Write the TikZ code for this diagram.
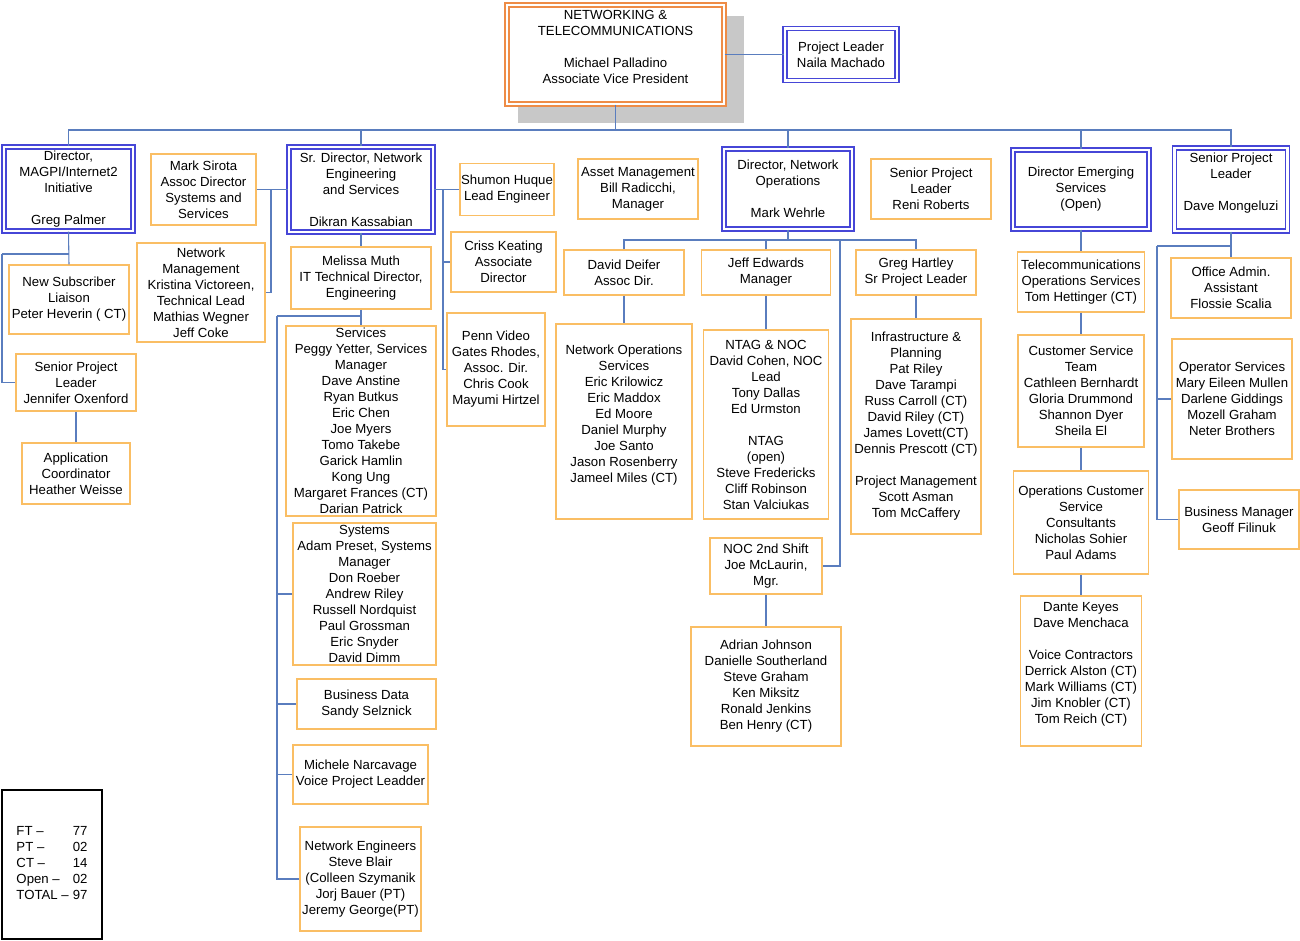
\documentclass[tikz,border=0pt]{standalone}
\usepackage{fontspec}
\setmainfont{Liberation Sans}
\usepackage{tikz}
\usetikzlibrary{calc}
\definecolor{boxorange}{RGB}{250,190,100}
\definecolor{rootorange}{RGB}{238,140,70}
\definecolor{headblue}{RGB}{70,70,215}
\definecolor{linkblue}{RGB}{90,125,190}
\definecolor{shadowgray}{RGB}{200,200,200}
\def\px{0.75pt}

\begin{document}
\begin{tikzpicture}[x=0.75pt, y=-0.75pt, every node/.style={font=\fontsize{9.9}{12}\selectfont}, box/.style={draw=boxorange, fill=white, align=center, inner sep=0.5pt, line width=1pt}, head/.style={draw=headblue, double=white, double distance=2.2pt, line width=0.8pt, fill=white, align=center, inner sep=0.5pt}, link/.style={draw=linkblue, line width=0.8pt}]
\useasboundingbox (0,0) rectangle (1300,941);
% top of the chart
\fill[shadowgray] (518,16) rectangle (744,123);
\node[head, draw=rootorange, minimum width=217*\px, minimum height=99*\px] (nt) at (615.5,54.5) {NETWORKING \&\\TELECOMMUNICATIONS\\[12pt]Michael Palladino\\Associate Vice President\\ \mbox{}};
\node[head, minimum width=112*\px, minimum height=52*\px] (pl) at (841,54.5) {Project Leader\\Naila Machado};
\node[head, minimum width=129*\px, minimum height=84*\px] (magpi) at (68.5,189) {Director,\\MAGPI/Internet2\\Initiative\\[12pt]Greg Palmer};
\node[box, minimum width=105*\px, minimum height=71*\px] (sirota) at (203.5,189.5) {Mark Sirota\\Assoc Director\\Systems and\\Services};
\node[head, minimum width=144*\px, minimum height=85*\px] (srdir) at (361,189.5) {Sr. Director, Network\\Engineering\\and Services\\[12pt]Dikran Kassabian};
\node[box, minimum width=94*\px, minimum height=52*\px] (huque) at (507,189.5) {Shumon Huque\\Lead Engineer};
\node[box, minimum width=120*\px, minimum height=60*\px] (asset) at (638,189) {Asset Management\\Bill Radicchi,\\Manager};
\node[head, minimum width=128*\px, minimum height=80*\px] (netops) at (788,189) {Director, Network\\Operations\\[12pt]Mark Wehrle};
\node[box, minimum width=120*\px, minimum height=60*\px] (roberts) at (931,189) {Senior Project\\Leader\\Reni Roberts};
\node[head, minimum width=136*\px, minimum height=79*\px] (emerg) at (1081,189.5) {Director Emerging\\Services\\(Open)};
\node[head, minimum width=113*\px, minimum height=83*\px] (mongeluzi) at (1231,189.5) {Senior Project\\Leader\\[12pt]Dave Mongeluzi\\ \mbox{}};
% MAGPI group
\node[box, minimum width=120*\px, minimum height=69*\px] (nsl) at (69,299.5) {New Subscriber\\Liaison\\Peter Heverin ( CT)};
\node[box, minimum width=120*\px, minimum height=57*\px] (spl) at (76,382.5) {Senior Project\\Leader\\Jennifer Oxenford};
\node[box, minimum width=108*\px, minimum height=61*\px] (appc) at (76,473.5) {Application\\Coordinator\\Heather Weisse};
\node[box, minimum width=128*\px, minimum height=99*\px] (netmgmt) at (201,292.5) {Network\\Management\\Kristina Victoreen,\\Technical Lead\\Mathias Wegner\\Jeff Coke};
% engineering group
\node[box, minimum width=140*\px, minimum height=62*\px] (muth) at (361,278) {Melissa Muth\\IT Technical Director,\\Engineering};
\node[box, minimum width=105*\px, minimum height=60*\px] (keating) at (503.5,262) {Criss Keating\\Associate\\Director};
\node[box, minimum width=98*\px, minimum height=113*\px] (pennvid) at (496,369.5) {Penn Video\\Gates Rhodes,\\Assoc. Dir.\\Chris Cook\\Mayumi Hirtzel};
\node[box, minimum width=150*\px, minimum height=190*\px] (services) at (361,421) {Services\\Peggy Yetter, Services\\Manager\\Dave Anstine\\Ryan Butkus\\Eric Chen\\Joe Myers\\Tomo Takebe\\Garick Hamlin\\Kong Ung\\Margaret Frances (CT)\\Darian Patrick};
\node[box, minimum width=143*\px, minimum height=142*\px] (systems) at (364.5,594) {Systems\\Adam Preset, Systems\\Manager\\Don Roeber\\Andrew Riley\\Russell Nordquist\\Paul Grossman\\Eric Snyder\\David Dimm};
\node[box, minimum width=139*\px, minimum height=50*\px] (bizdata) at (366.5,704) {Business Data\\Sandy Selznick};
\node[box, minimum width=135*\px, minimum height=59*\px] (narcavage) at (360.5,774.5) {Michele Narcavage\\Voice Project Leadder};
\node[box, minimum width=121*\px, minimum height=104*\px] (neteng) at (360.5,879) {Network Engineers\\Steve Blair\\(Colleen Szymanik\\Jorj Bauer (PT)\\Jeremy George(PT)};
% operations group
\node[box, minimum width=120*\px, minimum height=45*\px] (deifer) at (624,272.5) {David Deifer\\Assoc Dir.};
\node[box, minimum width=129*\px, minimum height=45*\px] (edwards) at (766,272.5) {Jeff Edwards\\Manager};
\node[box, minimum width=120*\px, minimum height=45*\px] (hartley) at (916,272.5) {Greg Hartley\\Sr Project Leader};
\node[box, minimum width=136*\px, minimum height=195*\px] (nos) at (624,421.5) {Network Operations\\Services\\Eric Krilowicz\\Eric Maddox\\Ed Moore\\Daniel Murphy\\Joe Santo\\Jason Rosenberry\\Jameel Miles (CT)\\ \mbox{}};
\node[box, minimum width=125*\px, minimum height=189*\px] (ntag) at (766,424.5) {NTAG \& NOC\\David Cohen, NOC\\Lead\\Tony Dallas\\Ed Urmston\\[12pt]NTAG\\(open)\\Steve Fredericks\\Cliff Robinson\\Stan Valciukas};
\node[box, minimum width=130*\px, minimum height=215*\px] (infra) at (916,426.5) {Infrastructure \&\\Planning\\Pat Riley\\Dave Tarampi\\Russ Carroll (CT)\\David Riley (CT)\\James Lovett(CT)\\Dennis Prescott (CT)\\[12pt]Project Management\\Scott Asman\\Tom McCaffery};
\node[box, minimum width=112*\px, minimum height=56*\px] (noc2) at (766,566) {NOC 2nd Shift\\Joe McLaurin,\\Mgr.};
\node[box, minimum width=150*\px, minimum height=119*\px] (shift2) at (766,686.5) {Adrian Johnson\\Danielle Southerland\\Steve Graham\\Ken Miksitz\\Ronald Jenkins\\Ben Henry (CT)};
% emerging services group
\node[box, minimum width=127*\px, minimum height=60*\px] (telops) at (1081,282) {Telecommunications\\Operations Services\\Tom Hettinger (CT)};
\node[box, minimum width=126*\px, minimum height=112*\px] (cst) at (1081,391) {Customer Service\\Team\\Cathleen Bernhardt\\Gloria Drummond\\Shannon Dyer\\Sheila El};
\node[box, minimum width=135*\px, minimum height=103*\px] (ocsc) at (1081,522.5) {Operations Customer\\Service\\Consultants\\Nicholas Sohier\\Paul Adams};
\node[box, minimum width=121*\px, minimum height=150*\px] (keyes) at (1081,671) {Dante Keyes\\Dave Menchaca\\[12pt]Voice Contractors\\Derrick Alston (CT)\\Mark Williams (CT)\\Jim Knobler (CT)\\Tom Reich (CT)\\ \mbox{}};
\node[box, minimum width=120*\px, minimum height=60*\px] (officeadmin) at (1231,288) {Office Admin.\\Assistant\\Flossie Scalia};
\node[box, minimum width=120*\px, minimum height=120*\px] (operator) at (1232,399) {Operator Services\\Mary Eileen Mullen\\Darlene Giddings\\Mozell Graham\\Neter Brothers};
\node[box, minimum width=120*\px, minimum height=59*\px] (bizmgr) at (1239,519.5) {Business Manager\\Geoff Filinuk};
% head count
\node[draw=black, line width=0.8pt, minimum width=100*\px, minimum height=149*\px, inner sep=0pt] (count) at (52,864.5) {\begin{tabular}{@{}l@{\hspace{3pt}}l@{}}FT -- & 77\\PT -- & 02\\CT -- & 14\\Open -- & 02\\TOTAL -- & 97\end{tabular}};
% connectors
\coordinate (bus) at (615.5,130);
\draw[link] (nt.south) -- (bus);
\draw[link] (magpi.north) |- (bus) -| (mongeluzi.north);
\foreach \n in {srdir,netops,emerg} \draw[link] (\n.north) -- (\n.north |- bus);
\draw[link] (nt.east) -- (pl.west);
\coordinate (gj) at (2,254);
\draw[link] (magpi.south) -- (nsl.north);
\draw[link] (gj) -- (gj -| magpi.south);
\draw[link] (gj) |- (spl.west);
\draw[link] (spl.south) -- (appc.north);
\coordinate (sj) at (271,189.5);
\draw[link] (sirota.east) -- (srdir.west);
\draw[link] (sj) |- (netmgmt.east);
\coordinate (hj) at (443,189.5);
\draw[link] (srdir.east) -- (huque.west);
\draw[link] (hj) |- (keating.west);
\draw[link] (hj) |- (pennvid.west);
\draw[link] (srdir.south) -- (muth.north);
\draw[link] (muth.south) -- (services.north);
\coordinate (mj) at (277,316);
\draw[link] (mj) -- (mj -| muth.south);
\draw[link] (mj) |- (neteng.west);
\foreach \n in {systems,bizdata,narcavage} \draw[link] (mj) |- (\n.west);
\coordinate (oj) at (788,240);
\draw[link] (netops.south) -- (oj);
\draw[link] (deifer.north) |- (oj) -| (hartley.north);
\draw[link] (edwards.north) -- (edwards.north |- oj);
\coordinate (nj) at (840,240);
\draw[link] (nj) |- (noc2.east);
\draw[link] (deifer.south) -- (nos.north);
\draw[link] (edwards.south) -- (ntag.north);
\draw[link] (hartley.south) -- (infra.north);
\draw[link] (noc2.south) -- (shift2.north);
\draw[link] (emerg.south) -- (telops.north);
\draw[link] (telops.south) -- (cst.north);
\draw[link] (cst.south) -- (ocsc.north);
\draw[link] (ocsc.south) -- (keyes.north);
\coordinate (dj) at (1157,246);
\draw[link] (mongeluzi.south) -- (officeadmin.north);
\draw[link] (dj) -- (dj -| mongeluzi.south);
\draw[link] (dj) |- (operator.west);
\draw[link] (dj) |- (bizmgr.west);
\end{tikzpicture}
\end{document}
